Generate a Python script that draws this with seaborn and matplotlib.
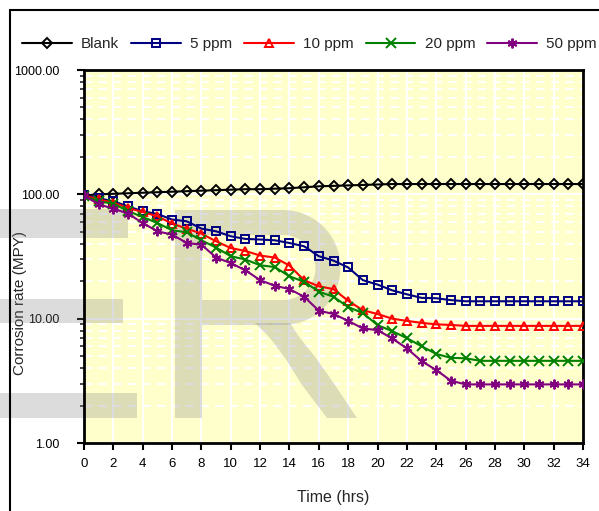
import numpy as np
import pandas as pd
import matplotlib
matplotlib.use("Agg")
import matplotlib.pyplot as plt
import seaborn as sns
from matplotlib.ticker import FixedLocator, FuncFormatter, LogLocator, NullFormatter
from matplotlib.patches import Rectangle, Polygon, PathPatch
from matplotlib.path import Path

time_hrs = list(range(0, 35))

blank = [98, 100, 101, 102, 103, 104, 105, 106, 107, 108, 109, 110, 110, 111, 112,
         114, 116, 117, 118, 119, 120, 121, 121, 121, 121, 121, 121, 121, 121, 121,
         121, 121, 121, 121, 121]
ppm5 = [98, 93, 88, 80, 73, 69.5, 62.7, 60.7, 53, 50.4, 46, 43.8, 43.3, 42.7, 40.6,
        38.2, 31.8, 29.3, 25.8, 20.4, 18.8, 16.9, 15.7, 14.7, 14.6, 14.1, 13.8, 13.8,
        13.8, 13.8, 13.8, 13.8, 13.8, 13.8, 13.8]
ppm10 = [98, 91, 85.8, 77.6, 72, 66.6, 58.2, 53, 48.3, 41.9, 37, 35, 32.2, 31, 26.7,
         20.4, 18.2, 17.3, 13.9, 11.7, 10.9, 10.0, 9.6, 9.25, 9.0, 8.9, 8.75, 8.75,
         8.75, 8.75, 8.75, 8.75, 8.75, 8.75, 8.75]
ppm20 = [96.4, 87.9, 84, 73.4, 65.7, 58.8, 51.4, 49.5, 42.7, 37.3, 31.8, 29.9, 26.9,
         26, 21.9, 19.8, 16.5, 15, 12.4, 11.1, 8.87, 7.94, 6.97, 6.0, 5.2, 4.84, 4.8,
         4.58, 4.58, 4.58, 4.58, 4.58, 4.58, 4.58, 4.58]
ppm50 = [98, 83, 76.8, 70, 58.8, 50.4, 47.5, 40.6, 39.4, 31, 28, 24.5, 20.4, 18.4,
         17.3, 15, 11.6, 10.9, 9.6, 8.34, 8.09, 6.93, 5.77, 4.56, 3.86, 3.17, 2.96,
         2.96, 2.96, 2.96, 2.96, 2.96, 2.96, 2.96, 2.96]

series_names = ["Blank", "5 ppm", "10 ppm", "20 ppm", "50 ppm"]
series_values = [blank, ppm5, ppm10, ppm20, ppm50]
x_ticks = list(range(0, 35, 2))
y_ticks = [1, 10, 100, 1000]

df = pd.DataFrame({
    "Time (hrs)": np.tile(time_hrs, len(series_names)),
    "rate": np.concatenate(series_values),
    "series": np.repeat(series_names, len(time_hrs)),
})

sns.set_style("ticks")
plt.rcParams["font.family"] = ["Liberation Sans", "DejaVu Sans"]

W, H = 599, 511
fig = plt.figure(figsize=(W / 100, H / 100), dpi=100)
ax = fig.add_axes([84 / W, 1 - 443 / H, (583 - 84) / W, (443 - 70) / H])
ax.set_facecolor("#FFFFCC")

colors = ["#000000", "#000080", "#FF0000", "#008000", "#800080"]
markers = ["D", "s", "^", "x", (6, 2, 0)]
msizes = [5.5, 5.5, 5.5, 7, 7]

for name, c, m, ms in zip(series_names, colors, markers, msizes):
    sub = df[df["series"] == name]
    filled = m in ("x",) or isinstance(m, tuple)
    sns.lineplot(data=sub, x="Time (hrs)", y="rate", ax=ax, color=c, lw=1.5,
                 marker=m, markersize=ms, markeredgecolor=c,
                 markerfacecolor=c if filled else "none", markeredgewidth=1.4,
                 label=name, legend=False, zorder=3)

ax.set_yscale("log")
ax.set_xlim(0, 34)
ax.set_ylim(1, 1000)
ax.xaxis.set_major_locator(FixedLocator(x_ticks))
ax.yaxis.set_major_locator(FixedLocator(y_ticks))
ax.yaxis.set_major_formatter(FuncFormatter(lambda v, p: f"{v:.2f}"))
ax.yaxis.set_minor_locator(LogLocator(base=10, subs=np.arange(2, 10)))
ax.yaxis.set_minor_formatter(NullFormatter())

ax.grid(True, which="major", axis="x", color="white", lw=1.5, ls="-", zorder=0)
ax.grid(True, which="major", axis="y", color="white", lw=1.5, ls="-", zorder=0)
ax.grid(True, which="minor", axis="y", color="white", lw=1.5, ls=(0, (4, 3)), zorder=0)
ax.set_axisbelow(True)

for s in ax.spines.values():
    s.set_visible(True)
    s.set_color("black")
    s.set_linewidth(2)

ax.tick_params(axis="x", which="major", direction="out", length=5, width=1.5,
               labelsize=9.5, colors="black", pad=6)
ax.tick_params(axis="y", which="major", direction="out", length=5, width=1.5,
               labelsize=9, colors="black", pad=13)
ax.tick_params(axis="y", which="minor", direction="out", length=3, width=1.2)

ax.set_xlabel("Time (hrs)", fontsize=11.5)
ax.set_ylabel("Corrosion rate (MPY)", fontsize=11)
ax.xaxis.set_label_coords(0.5, -0.127)
ax.yaxis.set_label_coords(-0.114, 0.375)

handles, labels = ax.get_legend_handles_labels()
fig.legend(handles, labels, loc="center left", bbox_to_anchor=(22 / W, 1 - 44 / H),
           ncol=5, frameon=False, fontsize=11, handlelength=3.27, handletextpad=0.59,
           columnspacing=0.78, borderpad=0, borderaxespad=0)


# faint watermark shapes (pixel coords from top-left)
def px(pts):
    return [(x / W, 1 - y / H) for x, y in pts]


wm_kw = dict(transform=fig.transFigure, facecolor="#808080", edgecolor="none",
             alpha=0.27, zorder=1)
e_bars = [
    [(-5, 209), (128, 209), (128, 238), (-5, 238)],
    [(-5, 299), (123, 299), (123, 323), (-5, 323)],
    [(-5, 393), (137, 393), (137, 418), (-5, 418)],
]
leg = [(255, 323), (290, 323), (300, 338), (316, 358), (335, 385), (357, 418),
       (327, 418), (302, 385), (285, 358), (270, 338)]
for pts in e_bars + [leg]:
    p = Polygon(px(pts), closed=True, **wm_kw)
    ax.add_artist(p)
    p.set_clip_on(False)

cx, cy, ro, ri = 283, 267.5, 57.5, 32.5
outer_arc = [(cx + ro * np.cos(a), cy - ro * np.sin(a))
             for a in np.linspace(np.pi / 2, -np.pi / 2, 40)]
inner_arc = [(cx + ri * np.cos(a), cy - ri * np.sin(a))
             for a in np.linspace(np.pi / 2, -np.pi / 2, 40)]
r_shape = [(175, 210)] + outer_arc + [(202, 325), (202, 418), (175, 418)]
hole = [(202, 300)] + inner_arc[::-1] + [(202, 235)]
outer_pts = px(r_shape)
hole_pts = px(hole)
verts = outer_pts + [outer_pts[0]] + hole_pts + [hole_pts[0]]
codes = ([Path.MOVETO] + [Path.LINETO] * (len(outer_pts) - 1) + [Path.CLOSEPOLY]
         + [Path.MOVETO] + [Path.LINETO] * (len(hole_pts) - 1) + [Path.CLOSEPOLY])
rp = PathPatch(Path(verts, codes), **wm_kw)
ax.add_artist(rp)
rp.set_clip_on(False)

fig.add_artist(Rectangle((10 / W, -0.1), 1.2, 1 - 10 / H + 0.1,
                         transform=fig.transFigure, fill=False, ec="black", lw=1.5,
                         clip_on=False))

fig.savefig("out.png", dpi=100, facecolor="white")
